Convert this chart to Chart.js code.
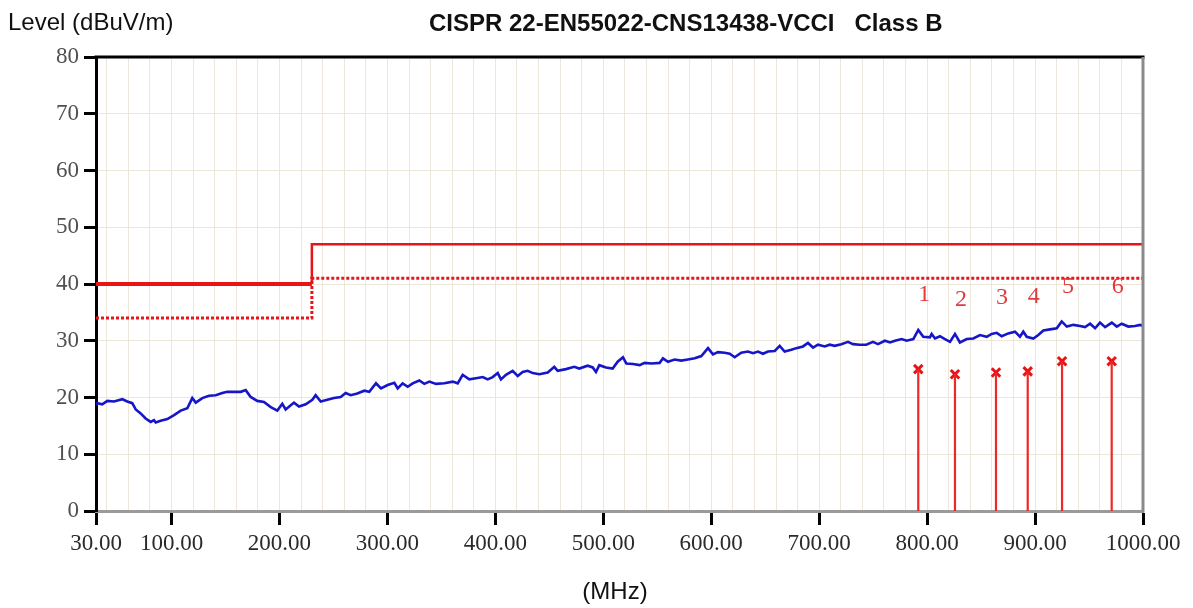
<!DOCTYPE html>
<html><head><meta charset="utf-8">
<script src="https://cdn.jsdelivr.net/npm/chart.js@4.4.0/dist/chart.umd.min.js"></script>
<style>html,body{margin:0;padding:0;background:#fff;}#wrap{width:1193px;height:608px;position:relative;}</style>
</head><body><div id="wrap"><canvas id="c" width="1193" height="608"></canvas></div>
<script>
// ---- data ----
const traceFreq = [30,31.2,35.8,40.5,46.7,54.4,59.0,63.6,66.8,71.4,76.0,80.7,83.7,85.3,89.9,96.1,102.3,108.5,114.6,119.2,122.4,128.5,134.7,140.9,147.0,151.6,157.8,164.1,168.7,173.3,179.4,185.6,191.9,198.0,202.6,205.7,213.4,218.1,224.3,230.4,233.5,238.2,244.3,250.5,256.7,261.3,266.0,272.1,278.6,283.2,289.4,294.0,300.2,306.4,309.5,314.1,318.8,323.4,329.5,334.2,338.8,345.0,352.7,360.5,365.1,369.7,375.8,382.0,388.3,392.9,397.5,402.2,405.2,409.8,416.0,420.7,425.3,429.9,434.6,440.7,448.5,454.6,457.7,465.4,473.1,477.7,485.5,490.2,493.2,496.3,502.5,508.7,513.3,518.2,521.3,527.5,533.7,538.3,544.5,552.2,555.3,559.9,566.1,572.2,578.4,584.7,590.8,597.0,601.6,606.2,612.4,617.1,621.7,627.8,634.0,638.7,643.3,647.9,652.6,658.8,663.4,668.0,674.2,678.8,685.0,689.6,694.3,698.9,705.1,709.7,714.4,720.5,726.7,731.3,737.5,743.6,749.8,754.5,760.9,765.6,770.2,776.4,781.0,787.2,791.8,796.4,802.6,804.2,807.3,811.9,816.5,821.2,825.8,830.4,836.7,842.8,849.0,855.2,859.8,864.5,869.1,875.2,881.4,886.0,889.1,892.3,898.4,903.0,907.7,913.9,920.1,924.7,929.4,935.5,941.7,946.3,951.0,955.6,960.2,964.9,971.1,975.7,980.3,986.4,992.6,997.3,1000];
const traceLevel = [18.7,19.0,18.8,19.4,19.3,19.7,19.3,19.0,17.9,17.2,16.3,15.7,16.0,15.6,15.9,16.2,16.9,17.7,18.1,19.9,19.1,19.9,20.3,20.4,20.8,21.0,21.0,21.0,21.3,20.1,19.4,19.2,18.3,17.7,18.9,17.9,19.1,18.4,18.8,19.6,20.4,19.3,19.6,19.9,20.1,20.8,20.4,20.7,21.2,21.0,22.5,21.6,22.2,22.6,21.6,22.5,21.9,22.5,23.0,22.4,22.8,22.4,22.5,22.8,22.5,24.0,23.2,23.4,23.6,23.2,23.6,24.3,23.2,24.0,24.7,23.8,24.5,24.7,24.3,24.1,24.4,25.4,24.7,25.0,25.4,25.1,25.6,25.3,24.5,25.7,25.3,25.1,26.3,27.1,26.0,25.9,25.7,26.1,26.0,26.1,26.9,26.3,26.7,26.5,26.7,26.9,27.3,28.7,27.6,28.0,27.9,27.7,27.1,27.9,28.1,27.8,28.1,27.7,28.1,28.2,29.1,28.1,28.4,28.7,29.0,29.6,28.8,29.3,29.0,29.3,29.1,29.4,29.8,29.4,29.3,29.3,29.8,29.4,30.0,29.7,30.0,30.3,30.0,30.3,31.9,30.7,30.6,31.2,30.4,30.8,30.3,29.8,31.2,29.7,30.3,30.4,31.0,30.7,31.2,31.4,30.8,31.3,31.6,30.7,31.6,30.7,30.4,31.0,31.8,32.0,32.2,33.4,32.5,32.8,32.6,32.4,33.0,32.2,33.2,32.4,33.2,32.5,33.0,32.5,32.6,32.8,32.6];
const limitFreq = [30, 230, 230, 1000];
const qpLimit = [40, 40, 47, 47];
const avgLimit = [34, 34, 41, 41];
const markerFreq = [791.8, 825.8, 863.8, 893.2, 925.0, 971.0];
const markerLevel = [25.0, 24.1, 24.4, 24.6, 26.4, 26.4];
const markerLabels = ['1', '2', '3', '4', '5', '6'];
const xTickValues = [30, 100, 200, 300, 400, 500, 600, 700, 800, 900, 1000];
const yTickValues = [0, 10, 20, 30, 40, 50, 60, 70, 80];
const xGridValues = [40,60,80,100,120,140,160,180,200,220,240,260,280,300,320,340,360,380,400,420,440,460,480,500,520,540,560,580,600,620,640,660,680,700,720,740,760,780,800,820,840,860,880,900,920,940,960,980,1000];
const titleText = 'CISPR 22-EN55022-CNS13438-VCCI   Class B';
const yTitle = 'Level (dBuV/m)';
const xTitle = '(MHz)';

// ---- build datasets ----
const pts = (xs, ys) => xs.map((x, i) => ({x: x, y: ys[i]}));
const stemData = [];
markerFreq.forEach((f, i) => { stemData.push({x: f, y: 0}, {x: f, y: markerLevel[i]}, {x: f, y: null}); });

const RED = 'rgb(232,20,24)';
const GRID = '#ece7d8';

const texts = {
  id: 'texts',
  afterDraw(chart) {
    const ctx = chart.ctx, a = chart.chartArea;
    const xs = chart.scales.x, ys = chart.scales.y;
    ctx.save();
    ctx.lineWidth = 3;
    ctx.strokeStyle = '#000';
    ctx.beginPath(); ctx.moveTo(a.left - 1.5, a.top); ctx.lineTo(a.right + 1.5, a.top); ctx.stroke();
    ctx.strokeStyle = '#8a8a8a';
    ctx.beginPath(); ctx.moveTo(a.right, a.top); ctx.lineTo(a.right, a.bottom + 1.5); ctx.stroke();
    ctx.fillStyle = '#111';
    ctx.textBaseline = 'middle';
    ctx.textAlign = 'left';
    ctx.font = '24px "Liberation Sans", Arial, sans-serif';
    ctx.fillText(yTitle, 8, 23);
    ctx.font = 'bold 24px "Liberation Sans", Arial, sans-serif';
    ctx.fillText(titleText, 429, 24);
    ctx.font = '24px "Liberation Sans", Arial, sans-serif';
    ctx.textAlign = 'center';
    ctx.fillText(xTitle, 615, 592);
    ctx.fillStyle = 'rgb(225,60,60)';
    ctx.font = '24px "Liberation Serif", "Times New Roman", serif';
    markerFreq.forEach((f, i) => {
      ctx.fillText(markerLabels[i], xs.getPixelForValue(f) + 6, ys.getPixelForValue(markerLevel[i] + 13.2));
    });
    ctx.restore();
  }
};

new Chart(document.getElementById('c'), {
  type: 'line',
  data: {
    datasets: [
      {data: pts(limitFreq, qpLimit), borderColor: RED, borderWidth: 3, pointRadius: 0,
       segment: {borderWidth: c => c.p0DataIndex === 0 ? 4 : 2.5}},
      {data: pts(limitFreq, avgLimit), borderColor: RED, borderWidth: 3, borderDash: [3, 2], pointRadius: 0},
      {data: pts(traceFreq, traceLevel), borderColor: 'rgb(22,22,200)', borderWidth: 2.6, pointRadius: 0, tension: 0},
      {data: stemData, borderColor: 'rgb(238,40,40)', borderWidth: 2.2, pointRadius: 0, spanGaps: false},
      {data: pts(markerFreq, markerLevel), showLine: false, pointStyle: 'crossRot', pointRadius: 6,
       pointBorderWidth: 3, pointBorderColor: RED, pointBackgroundColor: RED}
    ]
  },
  options: {
    responsive: false, animation: false, devicePixelRatio: 1,
    layout: {padding: {top: 57, right: 50, left: 0, bottom: 0}},
    plugins: {legend: {display: false}, tooltip: {enabled: false}, title: {display: false}},
    scales: {
      x: {
        type: 'linear', position: 'bottom', min: 30, max: 1000,
        afterBuildTicks: s => { s.ticks = xTickValues.map(v => ({value: v})); },
        afterFit: s => { s.height = 97; },
        ticks: {callback: v => Number(v).toFixed(2), autoSkip: false, maxRotation: 0, padding: 5,
                color: '#2a2a2a', font: {family: '"Liberation Serif", "Times New Roman", serif', size: 23}},
        grid: {drawOnChartArea: false, drawTicks: true, tickLength: 14, tickWidth: 3, tickColor: '#000'},
        border: {color: '#9a9a9a', width: 3}
      },
      xg: {
        type: 'linear', position: 'top', min: 30, max: 1000,
        afterBuildTicks: s => { s.ticks = xGridValues.map(v => ({value: v})); },
        afterFit: s => { s.height = 0; },
        ticks: {display: false},
        grid: {color: GRID, lineWidth: 1, drawTicks: false},
        border: {display: false}
      },
      y: {
        type: 'linear', min: 0, max: 80,
        afterBuildTicks: s => { s.ticks = yTickValues.map(v => ({value: v})); },
        afterFit: s => { s.width = 96; },
        ticks: {padding: 5, color: '#505050', font: {family: '"Liberation Serif", "Times New Roman", serif', size: 23}},
        grid: {color: GRID, lineWidth: 1, tickLength: 12, tickWidth: 3, tickColor: '#000'},
        border: {color: '#000', width: 3}
      }
    }
  },
  plugins: [texts]
});
</script></body></html>
